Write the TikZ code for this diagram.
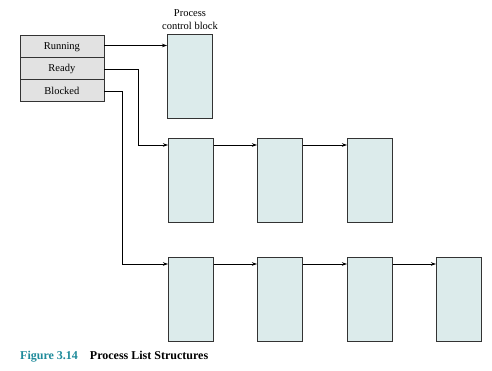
\documentclass[tikz,border=0pt]{standalone}
\usepackage{fontspec}
\setmainfont{Liberation Serif}
\usetikzlibrary{arrows.meta,calc}
\definecolor{pcbfill}{HTML}{DCEBEB}
\definecolor{tabfill}{HTML}{E2E2E2}
\definecolor{capteal}{HTML}{1E8A9A}
\definecolor{edge}{HTML}{333333}
\tikzset{
  pcb/.style={draw=edge, line width=0.7pt, fill=pcbfill, minimum width=45pt, minimum height=84pt, inner sep=0pt, anchor=north west},
  cell/.style={draw=edge, line width=0.7pt, fill=tabfill, minimum width=84pt, minimum height=22pt, inner sep=0pt, anchor=north west, font=\fontsize{10.5}{12}\selectfont},
  link/.style={draw=black, line width=0.7pt, -{Stealth[length=5pt,width=3.5pt]}},
}
\begin{document}
\begin{tikzpicture}[x=1pt,y=-1pt]
\useasboundingbox (0,0) rectangle (492,371);
% state table
\node[cell] (run) at (19.5,35.5) {Running};
\node[cell] (rdy) at (19.5,57.5) {Ready};
\node[cell] (blk) at (19.5,79.5) {Blocked};
% PCB running
\node[pcb] (p0) at (167,34) {};
\node[align=center, font=\fontsize{10.5}{13}\selectfont, anchor=south, inner sep=2pt] (lbl) at (190,32) {Process\\control block};
% ready row
\node[pcb] (r1) at (168,138) {};
\node[pcb] (r2) at (257,138) {};
\node[pcb] (r3) at (347,138) {};
% blocked row
\node[pcb] (b1) at (168,257) {};
\node[pcb] (b2) at (257,257) {};
\node[pcb] (b3) at (347,257) {};
\node[pcb] (b4) at (436,257) {};
% connectors
\draw[link] (run.east |- 0,45.5) -- (p0.west |- 0,45.5);
\coordinate (rdyturn) at (138,69);
\draw[link] (rdy.east |- rdyturn) -- (rdyturn) -- (138,145) -- (r1.west |- 0,145);
\coordinate (blkturn) at (122,91.5);
\draw[link] (blk.east |- blkturn) -- (blkturn) -- (122,264) -- (b1.west |- 0,264);
\draw[link] (r1.east |- 0,145) -- (r2.west |- 0,145);
\draw[link] (r2.east |- 0,145) -- (r3.west |- 0,145);
\draw[link] (b1.east |- 0,264) -- (b2.west |- 0,264);
\draw[link] (b2.east |- 0,264) -- (b3.west |- 0,264);
\draw[link] (b3.east |- 0,264) -- (b4.west |- 0,264);
% caption
\node[anchor=west, inner sep=0pt, font=\fontsize{12}{14}\selectfont\bfseries] (cap) at (20,357) {\textcolor{capteal}{Figure 3.14}\hspace{12pt}Process List Structures};
\end{tikzpicture}
\end{document}
